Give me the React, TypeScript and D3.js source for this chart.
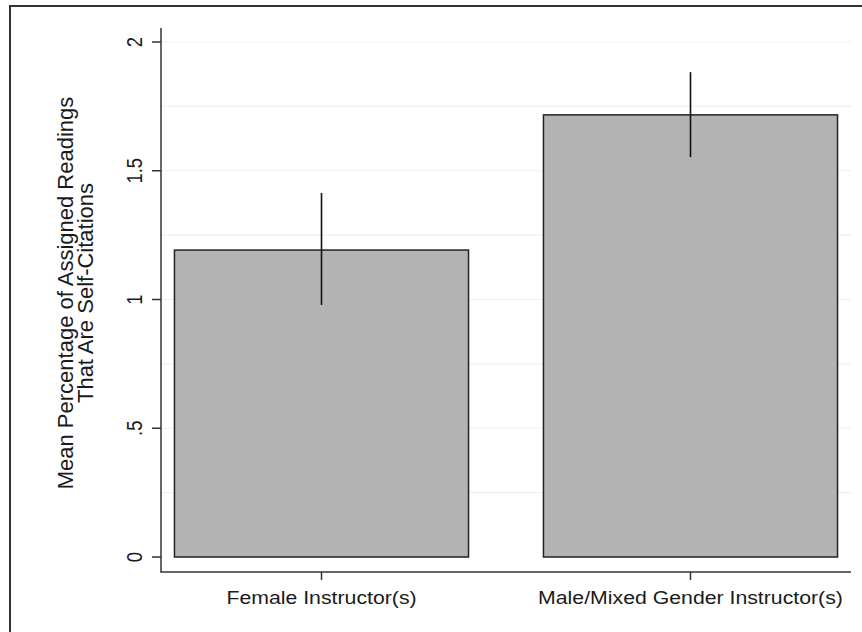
import React from "react";
import * as d3 from "d3";

const categories = ["Female Instructor(s)", "Male/Mixed Gender Instructor(s)"];
const means = [1.192, 1.717];
const ciLow = [0.979, 1.553];
const ciHigh = [1.414, 1.883];
const yTicks = [0, 0.5, 1, 1.5, 2];
const yTickLabels = ["0", ".5", "1", "1.5", "2"];
const gridValues = [0.25, 0.5, 0.75, 1, 1.25, 1.5, 1.75, 2];
const titleLines = ["Mean Percentage of Assigned Readings", "That Are Self-Citations"];

const W = 862;
const H = 632;
const SX = 1.15;
const FONT = "'Liberation Sans', Arial, sans-serif";
const FS = 18.5;
const TITLE_FS = 22;

export default function App() {
  const x0 = 161, x1 = 851;
  const y = d3.scaleLinear().domain([0, 2]).range([557, 42]);
  const x = d3.scaleBand<string>().domain(categories).range([x0, x1]).paddingInner(0.203).paddingOuter(0.0365);
  const bw = x.bandwidth();
  const axisY = 572;
  const textColor = "#1a1a1a";

  return (
    <svg width={W} height={H} style={{ position: "absolute", left: 0, top: 0, background: "#fff" }}>
      <rect x={0} y={0} width={W} height={H} fill="#fff" />
      {/* outer border */}
      <rect x={10} y={6} width={W + 20} height={H + 20} fill="none" stroke="#333" strokeWidth={2} />
      {/* gridlines */}
      {gridValues.map((v) => (
        <line key={v} x1={x0} x2={x1} y1={y(v)} y2={y(v)} stroke="#eaf2f3" strokeWidth={1.2} />
      ))}
      {/* bars */}
      {categories.map((c, i) => (
        <rect key={c} x={x(c)!} y={y(means[i])} width={bw} height={y(0) - y(means[i])}
          fill="#b3b3b3" stroke="#222" strokeWidth={1.5} />
      ))}
      {/* error bars */}
      {categories.map((c, i) => (
        <line key={c} x1={x(c)! + bw / 2} x2={x(c)! + bw / 2} y1={y(ciHigh[i])} y2={y(ciLow[i])}
          stroke="#111" strokeWidth={1.6} />
      ))}
      {/* axes */}
      <line x1={x0} x2={x0} y1={28} y2={axisY + 0.75} stroke="#333" strokeWidth={1.5} />
      <line x1={x0} x2={x1} y1={axisY} y2={axisY} stroke="#333" strokeWidth={1.5} />
      {yTicks.map((v) => (
        <line key={v} x1={x0 - 9} x2={x0} y1={y(v)} y2={y(v)} stroke="#333" strokeWidth={1.5} />
      ))}
      {categories.map((c) => (
        <line key={c} x1={x(c)! + bw / 2} x2={x(c)! + bw / 2} y1={axisY} y2={axisY + 8} stroke="#333" strokeWidth={1.5} />
      ))}
      {/* y tick labels */}
      {yTicks.map((v, i) => (
        <g key={v} transform={`translate(142,${y(v)}) scale(${SX},1) rotate(-90)`}>
          <text textAnchor="middle" fontFamily={FONT} fontSize={FS} fill={textColor}>{yTickLabels[i]}</text>
        </g>
      ))}
      {/* x labels */}
      {categories.map((c) => (
        <g key={c} transform={`translate(${x(c)! + bw / 2},604) scale(${SX},1)`}>
          <text textAnchor="middle" fontFamily={FONT} fontSize={FS} fill={textColor}>{c}</text>
        </g>
      ))}
      {/* y title */}
      {titleLines.map((t, i) => (
        <g key={t} transform={`translate(${73 + i * 20},293) rotate(-90)`}>
          <text textAnchor="middle" fontFamily={FONT} fontSize={TITLE_FS} fill={textColor}>{t}</text>
        </g>
      ))}
    </svg>
  );
}
